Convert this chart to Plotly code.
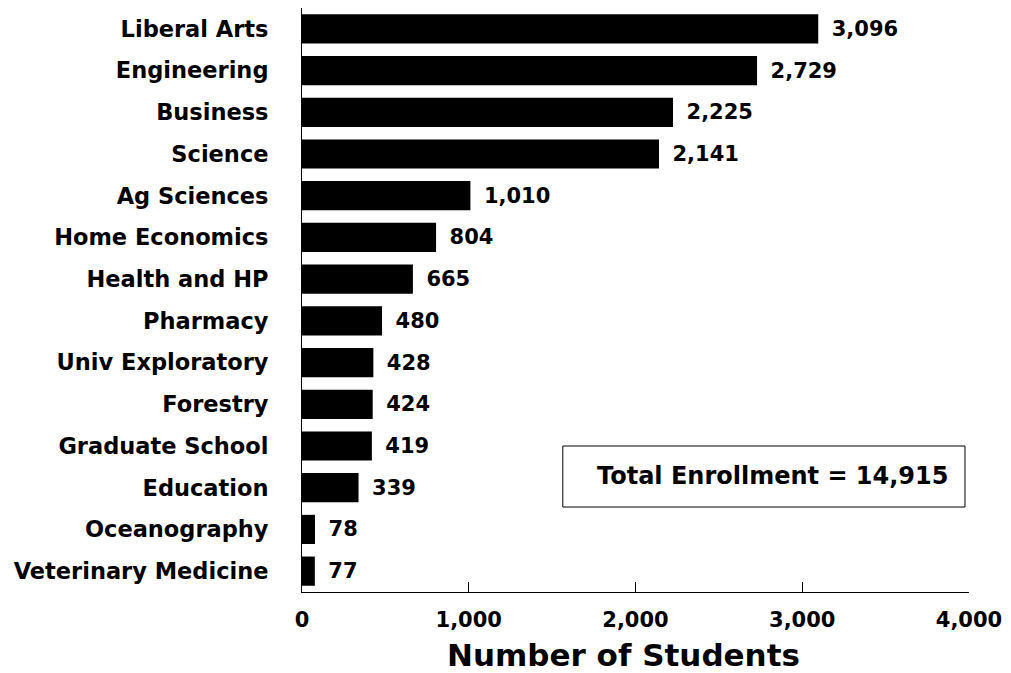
# external
import plotly.graph_objects as go


########
# Data #
########

colleges = [
    "Liberal Arts", "Engineering", "Business", "Science", "Ag Sciences",
    "Home Economics", "Health and HP", "Pharmacy", "Univ Exploratory",
    "Forestry", "Graduate School", "Education", "Oceanography",
    "Veterinary Medicine",
]
students = [3096, 2729, 2225, 2141, 1010, 804, 665, 480, 428, 424, 419, 339, 78, 77]
x_tickvals = [0, 1000, 2000, 3000, 4000]
x_ticktext = ["0", "1,000", "2,000", "3,000", "4,000"]
x_axis_title = "Number of Students"
total_text = "Total Enrollment = 14,915"


############
# Plotting #
############

FONT = "DejaVu Sans"

fig = go.Figure()

fig.add_trace(
    go.Bar(
        x=students,
        y=colleges,
        orientation="h",
        marker=dict(color="black", line=dict(width=0)),
        texttemplate="\u2002%{x:,}",
        textposition="outside",
        textfont=dict(family=FONT, size=21, color="black", weight="bold"),
        cliponaxis=False,
    )
)

# page body keeps an 8px margin, so the figure is 8px smaller than the window
fig.update_layout(
    width=1003,
    height=665,
    margin=dict(l=294, r=42, t=0, b=81),
    paper_bgcolor="white",
    plot_bgcolor="white",
    showlegend=False,
    bargap=0.3,
    font=dict(family=FONT, color="black"),
    xaxis=dict(
        range=[0, 4000],
        tickvals=x_tickvals,
        ticktext=x_ticktext,
        ticks="inside",
        ticklen=10,
        tickcolor="black",
        tickwidth=1,
        showgrid=False,
        zeroline=False,
        showline=True,
        linecolor="black",
        linewidth=1,
        tickfont=dict(family=FONT, size=21, weight="bold"),
        ticklabelstandoff=9,
    ),
    yaxis=dict(
        autorange="reversed",
        showgrid=False,
        zeroline=False,
        showline=True,
        linecolor="black",
        linewidth=1,
        ticks="",
        tickfont=dict(family=FONT, size=22.5, weight="bold"),
        ticklabelstandoff=28,
    ),
)

# Axis title, sits a little left of centre in the original
fig.add_annotation(
    x=0.482, y=-0.108,
    xref="paper", yref="paper",
    text=x_axis_title,
    showarrow=False,
    font=dict(family=FONT, size=31, weight="bold"),
    xanchor="center", yanchor="middle",
)

# Total enrollment box
fig.add_shape(
    type="rect",
    xref="paper", yref="paper",
    x0=0.391, x1=0.994, y0=0.1455, y1=0.25,
    line=dict(color="black", width=1),
    fillcolor="white",
)
fig.add_annotation(
    x=0.972, y=0.198,
    xref="paper", yref="paper",
    text=total_text,
    showarrow=False,
    font=dict(family=FONT, size=24, weight="bold"),
    xanchor="right", yanchor="middle",
)

fig.write_html("out.html")
